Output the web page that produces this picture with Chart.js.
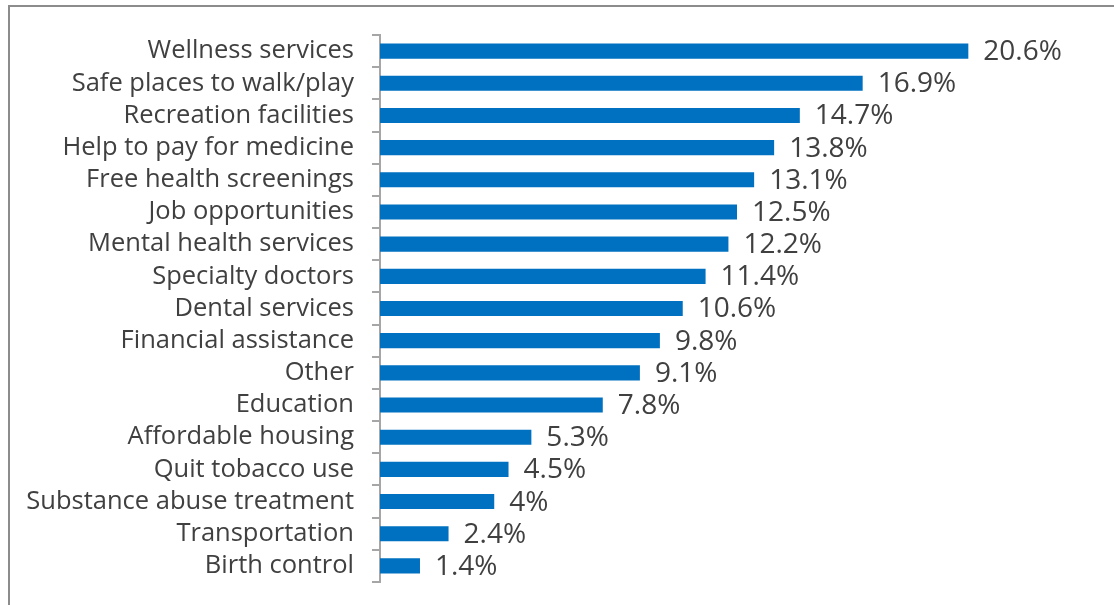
<!DOCTYPE html>
<html>
<head>
<meta charset="utf-8">
<script src="https://cdn.jsdelivr.net/npm/chart.js@4.4.1/dist/chart.umd.min.js"></script>
<style>
  html,body{margin:0;padding:0;background:#fff;overflow:hidden;}
  #frame{position:absolute;left:8px;top:5px;width:1200px;height:700px;
    border-left:2px solid #8c8c8c;border-top:2px solid #8c8c8c;}
  #wrap{position:absolute;left:0;top:0;width:1114px;height:605px;}
</style>
</head>
<body>
<div id="frame"></div>
<div id="wrap"><canvas id="chart"></canvas></div>
<script>
/* ---- data ---- */
const categories = [
  'Wellness services','Safe places to walk/play','Recreation facilities',
  'Help to pay for medicine','Free health screenings','Job opportunities',
  'Mental health services','Specialty doctors','Dental services',
  'Financial assistance','Other','Education','Affordable housing',
  'Quit tobacco use','Substance abuse treatment','Transportation','Birth control'
];
const values = [20.6,16.9,14.7,13.8,13.1,12.5,12.2,11.4,10.6,9.8,9.1,7.8,5.3,4.5,4,2.4,1.4];

const FONT = '"Open Sans", Lato, sans-serif';
const TXT  = '#404040';

/* value labels at bar ends */
const barLabels = {
  id:'barLabels',
  afterDatasetsDraw(chart){
    const {ctx} = chart;
    const meta = chart.getDatasetMeta(0);
    ctx.save();
    ctx.font = '28px ' + FONT;
    ctx.fillStyle = TXT;
    ctx.textAlign = 'left';
    ctx.textBaseline = 'middle';
    meta.data.forEach((bar,i)=>{
      ctx.fillText(values[i] + '%', bar.x + 15, bar.y + 1);
    });
    ctx.restore();
  }
};

new Chart(document.getElementById('chart'),{
  type:'bar',
  data:{
    labels:categories,
    datasets:[{ data:values, backgroundColor:'#0070c0', borderWidth:0,
      barPercentage:0.47, categoryPercentage:1 }]
  },
  options:{
    indexAxis:'y',
    responsive:true,
    maintainAspectRatio:false,
    animation:false,
    layout:{ padding:{ left:0, top:35, bottom:23, right:20 } },
    plugins:{ legend:{display:false}, tooltip:{enabled:false} },
    scales:{
      x:{ display:false, min:0, max:25 },
      y:{
        afterFit:s=>{ s.width = 380; s.paddingTop = 0; s.paddingBottom = 0; },
        border:{ display:true, color:'#a6a6a6', width:2 },
        grid:{ drawOnChartArea:false, color:'#a6a6a6', lineWidth:2, tickLength:8, offset:true },
        ticks:{ color:TXT, font:{ family:FONT, size:25.5 }, padding:18, autoSkip:false }
      }
    }
  },
  plugins:[barLabels]
});
</script>
</body>
</html>
